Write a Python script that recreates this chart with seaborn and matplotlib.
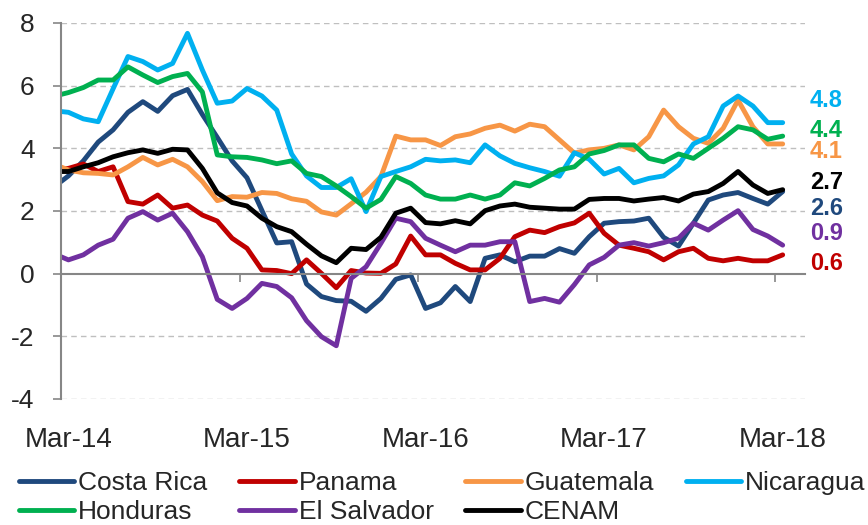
import numpy as np
import pandas as pd
import matplotlib
matplotlib.use("Agg")
import matplotlib.pyplot as plt
from matplotlib.lines import Line2D
import seaborn as sns

# monthly series, Feb-14 .. Mar-18 (Feb-14 is only seen as the clipped start of each line)
months = pd.date_range("2014-02-01", periods=50, freq="MS")

costa_rica = [2.76, 3.12, 3.6, 4.2, 4.59, 5.15, 5.49, 5.18, 5.68, 5.88, 5.08,
              4.35, 3.6, 3.06, 2.02, 0.98, 1.02, -0.33, -0.73, -0.86, -0.88,
              -1.2, -0.79, -0.18, -0.04, -1.11, -0.93, -0.41, -0.89, 0.49, 0.6,
              0.38, 0.56, 0.56, 0.8, 0.65, 1.18, 1.61, 1.66, 1.68, 1.77,
              1.16, 0.88, 1.61, 2.35, 2.51, 2.59, 2.4, 2.22, 2.62]
panama = [3.3, 3.36, 3.5, 3.26, 3.41, 2.3, 2.22, 2.51, 2.09, 2.19, 1.87,
          1.68, 1.13, 0.81, 0.12, 0.1, 0.0, 0.44, 0.01, -0.45, 0.1,
          0.02, 0.01, 0.31, 1.2, 0.6, 0.6, 0.33, 0.12, 0.12, 0.49,
          1.18, 1.39, 1.31, 1.5, 1.62, 1.93, 1.29, 0.91, 0.81, 0.7,
          0.44, 0.7, 0.81, 0.49, 0.41, 0.49, 0.41, 0.41, 0.6]
guatemala = [3.5, 3.31, 3.22, 3.2, 3.15, 3.41, 3.71, 3.47, 3.65, 3.41, 2.94,
             2.33, 2.46, 2.44, 2.59, 2.56, 2.39, 2.31, 1.97, 1.87, 2.23,
             2.6, 3.1, 4.39, 4.27, 4.27, 4.09, 4.37, 4.46, 4.64, 4.74,
             4.55, 4.77, 4.69, 4.27, 3.85, 3.95, 4.0, 4.11, 3.95, 4.37,
             5.22, 4.69, 4.32, 4.16, 4.64, 5.54, 4.69, 4.14, 4.14]
nicaragua = [5.2, 5.15, 4.94, 4.85, 5.9, 6.93, 6.77, 6.5, 6.71, 7.67, 6.5,
             5.44, 5.51, 5.91, 5.67, 5.22, 3.82, 3.12, 2.75, 2.75, 3.03,
             1.98, 3.1, 3.26, 3.41, 3.65, 3.6, 3.63, 3.54, 4.11, 3.76,
             3.52, 3.38, 3.26, 3.11, 3.86, 3.65, 3.18, 3.36, 2.9, 3.04,
             3.12, 3.47, 4.14, 4.37, 5.35, 5.67, 5.35, 4.82, 4.82]
honduras = [5.66, 5.78, 5.94, 6.18, 6.18, 6.6, 6.34, 6.1, 6.29, 6.39, 5.8,
            3.79, 3.73, 3.71, 3.63, 3.51, 3.6, 3.2, 3.1, 2.8, 2.46,
            2.09, 2.37, 3.1, 2.88, 2.51, 2.38, 2.38, 2.51, 2.38, 2.51,
            2.9, 2.8, 3.04, 3.31, 3.41, 3.82, 3.93, 4.11, 4.11, 3.68,
            3.57, 3.82, 3.68, 4.0, 4.32, 4.69, 4.59, 4.29, 4.39]
el_salvador = [0.64, 0.44, 0.6, 0.91, 1.1, 1.77, 1.98, 1.71, 1.93, 1.34, 0.54,
               -0.82, -1.11, -0.79, -0.31, -0.41, -0.77, -1.5, -2.01, -2.3, -0.15,
               0.22, 0.97, 1.77, 1.66, 1.13, 0.91, 0.7, 0.91, 0.91, 1.02,
               1.02, -0.89, -0.79, -0.91, -0.35, 0.28, 0.52, 0.91, 0.99, 0.88,
               0.99, 1.13, 1.61, 1.39, 1.71, 2.01, 1.41, 1.2, 0.91]
cenam = [3.26, 3.26, 3.41, 3.54, 3.73, 3.86, 3.95, 3.84, 3.97, 3.95, 3.36,
         2.58, 2.27, 2.16, 1.77, 1.5, 1.34, 0.94, 0.57, 0.35, 0.81,
         0.77, 1.16, 1.93, 2.09, 1.63, 1.59, 1.69, 1.59, 2.01, 2.16,
         2.22, 2.12, 2.09, 2.06, 2.06, 2.37, 2.4, 2.4, 2.32, 2.38,
         2.43, 2.32, 2.54, 2.62, 2.88, 3.26, 2.83, 2.56, 2.68]

countries = ["Costa Rica", "Panama", "Guatemala", "Nicaragua", "Honduras", "El Salvador", "CENAM"]
colors = ["#1F497D", "#C00000", "#F79646", "#00B0F0", "#00B050", "#7030A0", "#000000"]
# vertical nudge (pixels) of the end-value labels so they do not collide
label_nudge = [-17, -9, -8, 22, 6, 12, 7]

df = pd.DataFrame({
    "idx": np.arange(len(months)),
    "Costa Rica": costa_rica, "Panama": panama, "Guatemala": guatemala,
    "Nicaragua": nicaragua, "Honduras": honduras, "El Salvador": el_salvador,
    "CENAM": cenam,
})
long = df.melt(id_vars="idx", var_name="country", value_name="value")

sns.set_style("white")
plt.rcParams["font.family"] = ["Liberation Sans", "DejaVu Sans"]
plt.rcParams["axes.unicode_minus"] = False

fig, ax = plt.subplots(figsize=(8.68, 5.25), dpi=100)
fig.subplots_adjust(left=61 / 868, right=805 / 868, top=1 - 23 / 525, bottom=1 - 399 / 525)

sns.lineplot(data=long, x="idx", y="value", hue="country", hue_order=countries,
             palette=colors, linewidth=3.5, ax=ax, legend=False)

ax.set_xlim(0.5, 50.5)
ax.set_ylim(-4, 8)
ax.set_xlabel("")
ax.set_ylabel("")

# dashed horizontal grid, the zero line is the x axis itself
for y in [-4, -2, 2, 4, 6, 8]:
    ax.axhline(y, color="#BFBFBF", lw=1, ls=(0, (4, 3)), zorder=0)

gray = "#868686"
for s in ["top", "right"]:
    ax.spines[s].set_visible(False)
ax.spines["left"].set_color(gray)
ax.spines["left"].set_linewidth(1.5)
ax.spines["bottom"].set_position(("data", 0))
ax.spines["bottom"].set_color(gray)
ax.spines["bottom"].set_linewidth(1.5)

ax.set_yticks(range(-4, 9, 2))
ax.tick_params(axis="y", left=True, length=6, width=1.2, color=gray, labelsize=19, pad=13)

march_idx = [i for i, m in enumerate(months) if m.month == 3]
ax.set_xticks([])
ax.set_xticks([i - 0.5 for i in march_idx[1:]], minor=True)
ax.tick_params(axis="x", which="minor", bottom=True, length=6, width=1.2, color=gray, direction="out")

secax = ax.secondary_xaxis(0.0)
secax.set_xticks(march_idx, [m.strftime("%b-%y") for m in months[march_idx]])
secax.tick_params(length=0, labelsize=20, pad=20)
for s in secax.spines.values():
    s.set_visible(False)

# end-of-series value labels
last = len(months) - 1
for name, col, dy in zip(countries, colors, label_nudge):
    v = df[name].iloc[-1]
    ax.annotate(f"{v:.1f}", xy=(last, v), xytext=(27, dy), textcoords="offset pixels",
                color=col, fontsize=17, fontweight="bold", va="center", ha="left",
                annotation_clip=False)

# legend in rows: Costa Rica, Panama, Guatemala, Nicaragua / Honduras, El Salvador, CENAM
order = ["Costa Rica", "Honduras", "Panama", "El Salvador", "Guatemala", "CENAM", "Nicaragua"]
handles = [Line2D([], [], color=colors[countries.index(n)], lw=3.5) for n in order]
fig.legend(handles, order, loc="upper left", bbox_to_anchor=(19 / 868, 1 - 471 / 525),
           ncol=4, frameon=False, fontsize=19, handlelength=2.1, handletextpad=0.15,
           columnspacing=1.2, labelspacing=0.2, borderpad=0, borderaxespad=0)

fig.savefig("out.png", dpi=100)
